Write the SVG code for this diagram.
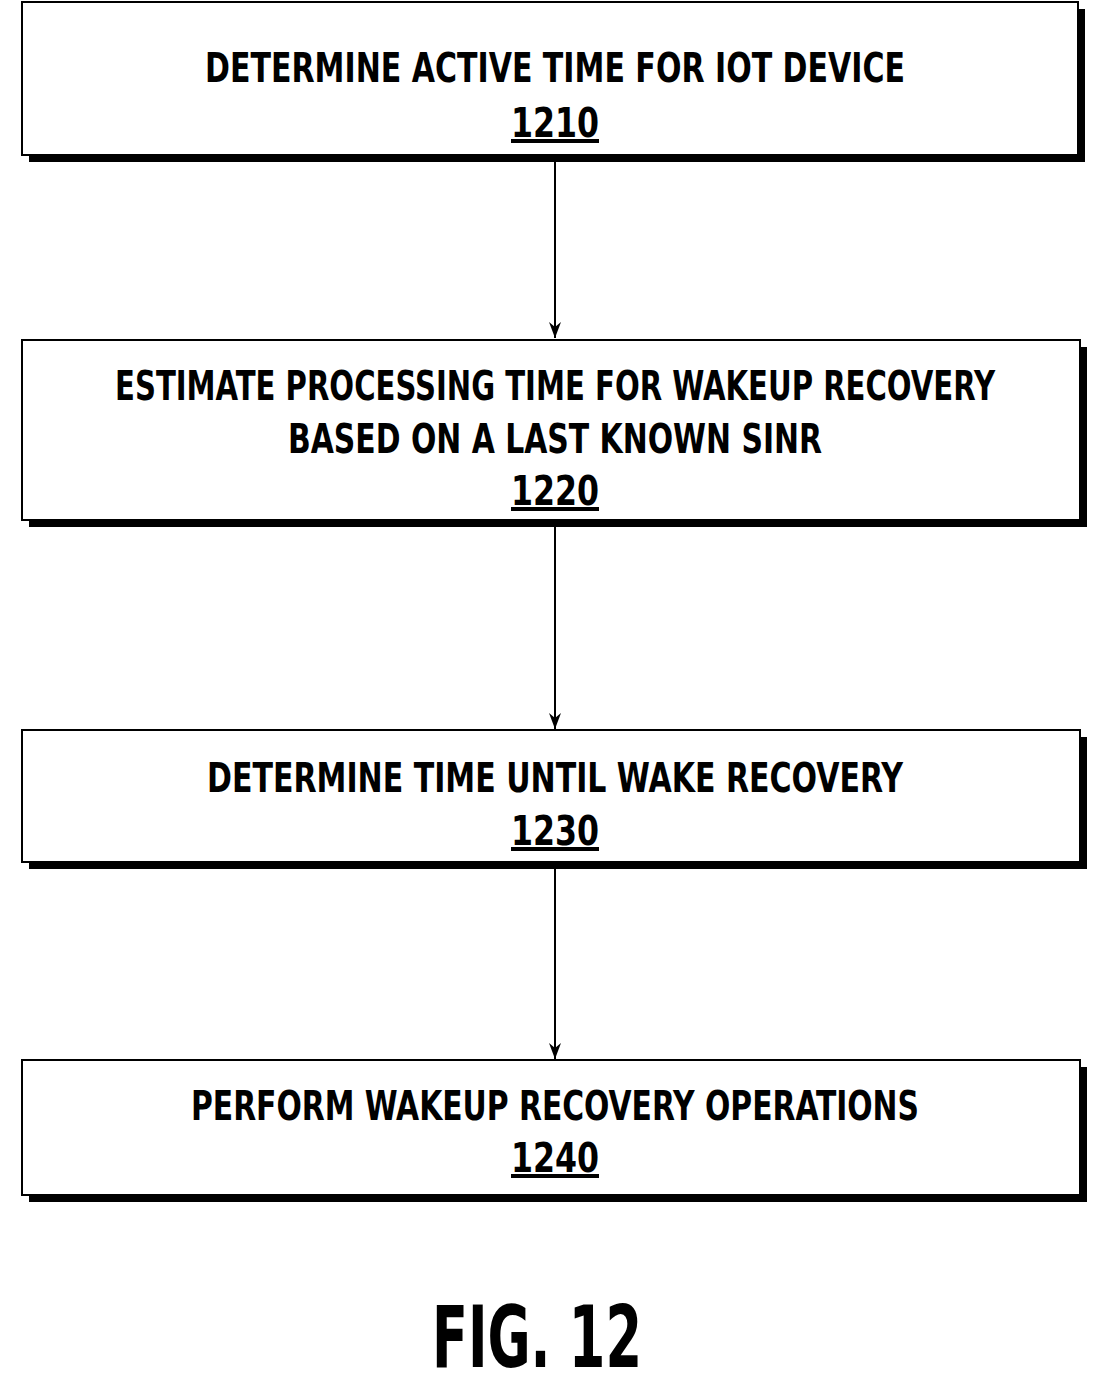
<svg xmlns="http://www.w3.org/2000/svg" width="1110" height="1389" viewBox="0 0 1110 1389">
<style>
.box{fill:#fff;stroke:#000;stroke-width:2}
.sh{fill:#000}
.t{font-family:"DejaVu Sans Condensed","DejaVu Sans",sans-serif;font-weight:bold;font-size:40px;text-anchor:middle;fill:#000}
.n{text-decoration:underline}
.c{stroke:#000;stroke-width:2;fill:none}
</style>
<defs><marker id="a" markerWidth="16" markerHeight="12" refX="16" refY="6" orient="auto" markerUnits="userSpaceOnUse" viewBox="0 0 16 12"><path d="M0,0 L16,6 L0,12 L5,6 Z" fill="#000"/></marker></defs>
<rect width="1110" height="1389" fill="#fff"/>
<g id="connectors">
<line class="c" x1="555" y1="156" x2="555" y2="338" marker-end="url(#a)"/>
<line class="c" x1="555" y1="521" x2="555" y2="729" marker-end="url(#a)"/>
<line class="c" x1="555" y1="863" x2="555" y2="1059" marker-end="url(#a)"/>
</g>
<g id="n1210">
<rect class="sh" x="29" y="9" width="1056" height="153"/>
<rect class="box" x="22" y="2" width="1056" height="153"/>
<text class="t" x="555" y="82" textLength="700" lengthAdjust="spacingAndGlyphs">DETERMINE ACTIVE TIME FOR IOT DEVICE</text>
<text class="t n" x="555" y="137" textLength="88" lengthAdjust="spacingAndGlyphs">1210</text>
</g>
<g id="n1220">
<rect class="sh" x="29" y="347" width="1058" height="180"/>
<rect class="box" x="22" y="340" width="1058" height="180"/>
<text class="t" x="555" y="400" textLength="880" lengthAdjust="spacingAndGlyphs">ESTIMATE PROCESSING TIME FOR WAKEUP RECOVERY</text>
<text class="t" x="555" y="453" textLength="534" lengthAdjust="spacingAndGlyphs">BASED ON A LAST KNOWN SINR</text>
<text class="t n" x="555" y="505" textLength="88" lengthAdjust="spacingAndGlyphs">1220</text>
</g>
<g id="n1230">
<rect class="sh" x="29" y="737" width="1058" height="132"/>
<rect class="box" x="22" y="730" width="1058" height="132"/>
<text class="t" x="555" y="792" textLength="696" lengthAdjust="spacingAndGlyphs">DETERMINE TIME UNTIL WAKE RECOVERY</text>
<text class="t n" x="555" y="845" textLength="88" lengthAdjust="spacingAndGlyphs">1230</text>
</g>
<g id="n1240">
<rect class="sh" x="29" y="1067" width="1058" height="135"/>
<rect class="box" x="22" y="1060" width="1058" height="135"/>
<text class="t" x="555" y="1120" textLength="728" lengthAdjust="spacingAndGlyphs">PERFORM WAKEUP RECOVERY OPERATIONS</text>
<text class="t n" x="555" y="1172" textLength="88" lengthAdjust="spacingAndGlyphs">1240</text>
</g>
<text class="t" x="537" y="1367" style="font-size:86px" textLength="210" lengthAdjust="spacingAndGlyphs">FIG. 12</text>
</svg>
